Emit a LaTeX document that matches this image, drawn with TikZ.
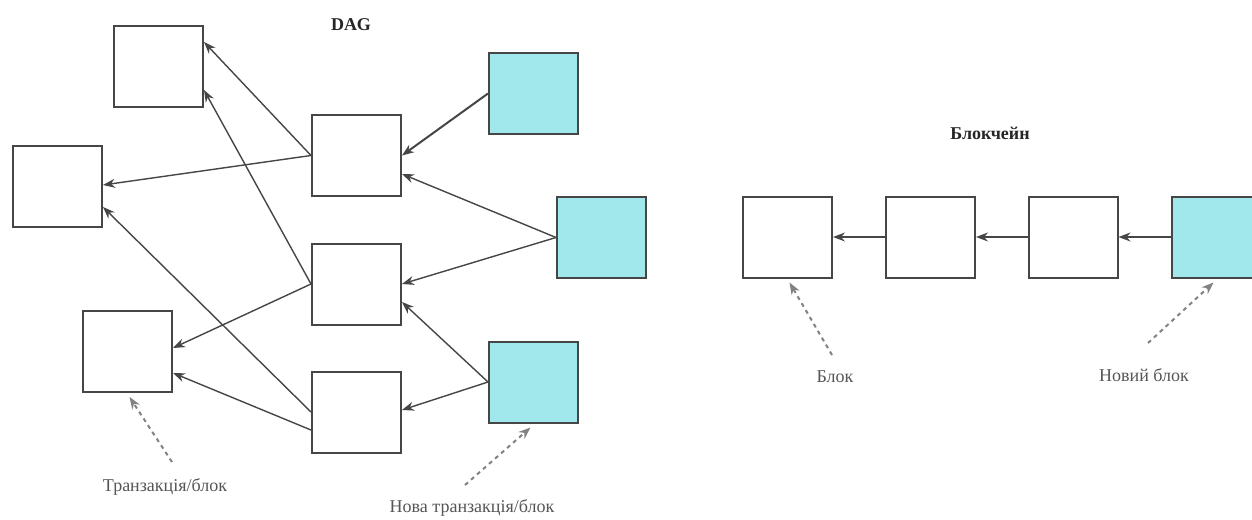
\documentclass[tikz,border=0pt]{standalone}
\usepackage{fontspec}
\setmainfont{Liberation Serif}
\usetikzlibrary{arrows.meta}
\definecolor{cyanbox}{RGB}{160,232,236}
\definecolor{edgegray}{RGB}{70,70,70}
\definecolor{dashgray}{RGB}{130,130,130}
\definecolor{txtgray}{RGB}{85,85,85}
\begin{document}
\begin{tikzpicture}[x=1pt,y=-1pt,
  blockbox/.style={draw=edgegray,line width=2pt,fill=white,minimum width=89pt,minimum height=81pt,inner sep=0pt},
  newbox/.style={blockbox,fill=cyanbox},
  link/.style={draw=edgegray,line width=1.4pt,-{Stealth[length=12pt,width=9pt]}},
  pointer/.style={draw=dashgray,line width=2pt,dash pattern=on 4pt off 4pt,-{Stealth[length=12pt,width=9pt]}},
  lbl/.style={font=\fontsize{18}{21}\selectfont,text=txtgray,inner sep=0pt},
  ttl/.style={font=\fontsize{18}{21}\selectfont\bfseries,text=black!85,inner sep=0pt}]
\useasboundingbox (0,0) rectangle (1252,519);
\fill[white] (0,0) rectangle (1252,519);
% DAG
\node[blockbox] (B1) at (158.5,66.5) {};
\node[blockbox] (B2) at (57.5,186.5) {};
\node[blockbox] (B3) at (127.5,351.5) {};
\node[blockbox] (M1) at (356.5,155.5) {};
\node[blockbox] (M2) at (356.5,284) {};
\node[blockbox] (M3) at (356.5,412) {};
\node[newbox] (C1) at (533.5,93.5) {};
\node[newbox] (C2) at (601.5,237.5) {};
\node[newbox] (C3) at (533.5,382) {};
\node[ttl] (tdag) at (351,25) {DAG};
\draw[link] (M1.west) -- ([yshift=24.5pt]B1.east);
\draw[link] (M2.west) -- ([yshift=-23.5pt]B1.east);
\draw[link] (M1.west) -- ([yshift=1.5pt]B2.east);
\draw[link] (M3.west) -- ([yshift=-20.5pt]B2.east);
\draw[link] (M2.west) -- ([yshift=3.5pt]B3.east);
\draw[link] ([yshift=-18pt]M3.west) -- ([yshift=-21.5pt]B3.east);
\draw[link,line width=2pt] (C1.west) -- (M1.east);
\draw[link] (C2.west) -- ([yshift=-18.5pt]M1.east);
\draw[link] (C2.west) -- (M2.east);
\draw[link] (C3.west) -- ([yshift=-18pt]M2.east);
\draw[link] (C3.west) -- ([yshift=2pt]M3.east);
\coordinate (p1) at (172,462);
\coordinate (p2) at (465,485);
\draw[pointer] (p1) -- ([shift={(2pt,-4pt)}]B3.south);
\draw[pointer] (p2) -- ([shift={(-3pt,-4pt)}]C3.south);
\node[lbl] (l1) at (165,487) {Транзакція/блок};
\node[lbl] (l2) at (472,508) {Нова транзакція/блок};
% Blockchain
\node[blockbox] (K1) at (787.5,237) {};
\node[blockbox] (K2) at (930.5,237) {};
\node[blockbox] (K3) at (1073,237) {};
\node[newbox] (K4) at (1216.5,237) {};
\node[ttl] (tbc) at (990,133) {Блокчейн};
\draw[link] (K4.west) -- (K3.east);
\draw[link] (K3.west) -- (K2.east);
\draw[link] (K2.west) -- (K1.east);
\coordinate (p3) at (832,355);
\coordinate (p4) at (1148,343);
\draw[pointer] (p3) -- ([shift={(2pt,-4pt)}]K1.south);
\draw[pointer] (p4) -- ([shift={(-3pt,-4pt)}]K4.south);
\node[lbl] (l3) at (835,377) {Блок};
\node[lbl] (l4) at (1144,375) {Новий блок};
\end{tikzpicture}
\end{document}
